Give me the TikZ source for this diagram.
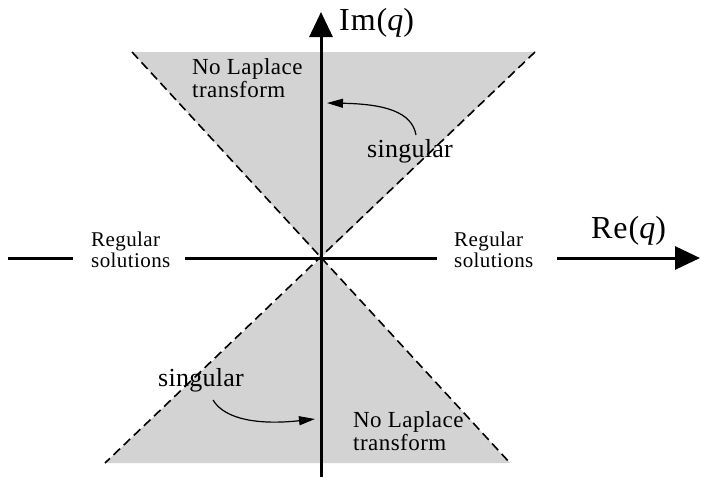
\documentclass[tikz,border=0pt]{standalone}
\usepackage{fontspec}
\setmainfont{Liberation Serif}
\newfontfamily\axfont[LetterSpace=3]{Liberation Serif}
\newfontfamily\lblfont[LetterSpace=2]{Liberation Serif}
\newfontfamily\singfont[LetterSpace=1]{Liberation Serif}
\usetikzlibrary{arrows.meta}
\definecolor{regiongray}{RGB}{211,211,211}
\begin{document}
\begin{tikzpicture}[x=1pt,y=-1pt,
  axisline/.style={line width=3pt},
  axisarrow/.style={line width=3pt,-{Triangle[length=25pt,width=23pt]}},
  border/.style={line width=1.6pt,dash pattern=on 9pt off 5pt},
  region/.style={fill=regiongray},
  axlabel/.style={inner sep=0pt,anchor=base west,font=\fontsize{32}{34}\selectfont\axfont},
  biglabel/.style={inner sep=0pt,anchor=base west,align=left,font=\fontsize{23}{20}\selectfont\lblfont},
  smalllabel/.style={inner sep=0pt,anchor=base west,align=left,font=\fontsize{21}{19}\selectfont\lblfont},
  singlabel/.style={inner sep=0pt,anchor=base west,font=\fontsize{26}{28}\selectfont\singfont},
  pointer/.style={line width=1.2pt,-{Triangle[length=16pt,width=9pt]}}]
\useasboundingbox (0,0) rectangle (701,477);
\coordinate (O) at (321,258);
\coordinate (TL) at (132,52);
\coordinate (TR) at (535,52);
\coordinate (BL) at (105,463);
\coordinate (BR) at (510,463);
% shaded regions
\fill[region] (TL) -- (TR) -- (O) -- cycle;
\fill[region] (BL) -- (BR) -- (O) -- cycle;
\draw[border] (TL) -- (BR);
\draw[border] (TR) -- (BL);
% axes
\coordinate (ybot) at (321,477);
\coordinate (ytop) at (321,12);
\draw[axisarrow] (ybot) -- (ytop);
\coordinate (xa) at (8,258);
\coordinate (xb) at (73,258);
\coordinate (xc) at (185,258);
\coordinate (xd) at (437,258);
\coordinate (xe) at (557,258);
\coordinate (xf) at (700,258);
\draw[axisline] (xa) -- (xb) (xc) -- (xd);
\draw[axisarrow] (xe) -- (xf);
% labels
\node[axlabel] (im) at (339,30) {Im({\itshape q})};
\node[axlabel] (re) at (591,238) {Re({\itshape q})};
\node[biglabel] (nlt) at (192,97) {No Laplace\\transform};
\node[biglabel] (nlb) at (353,450) {No Laplace\\transform};
\node[smalllabel] (rl) at (91,267) {Regular\\solutions};
\node[smalllabel] (rr) at (454,267) {Regular\\solutions};
\node[singlabel] (st) at (367,157) {singular};
\node[singlabel] (sb) at (158,386) {singular};
% pointers
\coordinate (ptt) at (327,103);
\coordinate (ptb) at (315,419);
\draw[pointer] (416,135) .. controls (412,112) and (385,104) .. (ptt);
\draw[pointer] (213,400) .. controls (225,420) and (260,425) .. (ptb);
\end{tikzpicture}
\end{document}
